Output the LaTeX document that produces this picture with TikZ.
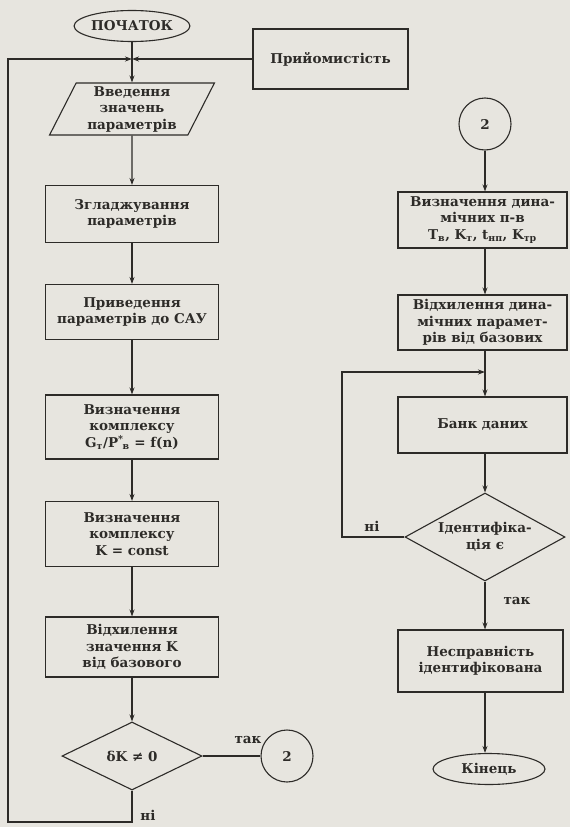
\documentclass[tikz,border=0pt]{standalone}
\usepackage{fontspec}
\setmainfont{DejaVu Serif}
\usetikzlibrary{shapes.geometric,arrows.meta}
\definecolor{paper}{RGB}{231,229,223}
\definecolor{ink}{RGB}{45,43,40}
\tikzset{
  base/.style={draw=ink,line width=1.1pt,text=ink,font=\bfseries\fontsize{13.5}{16.5}\selectfont,align=center,inner sep=1pt},
  box/.style={base,rectangle,minimum width=#1},
  oval/.style={base,ellipse,minimum width=112pt,minimum height=31pt,inner sep=0pt},
  para/.style={base,trapezium,trapezium left angle=65,trapezium right angle=115,trapezium stretches=true,minimum width=165pt,minimum height=52pt,inner sep=0pt},
  dec/.style={base,diamond,aspect=2},
  conn/.style={base,circle,minimum size=52pt},
  lbl/.style={text=ink,font=\bfseries\fontsize{13.5}{16.5}\selectfont},
  line/.style={draw=ink,line width=1.1pt},
  arr/.style={line,-{Stealth[length=7pt,width=5pt]}}
}
\begin{document}
\begin{tikzpicture}[x=1pt,y=-1pt]
\fill[paper] (0,0) rectangle (570,827);
\useasboundingbox (0,0) rectangle (570,827);
% left column
\node[oval] (start) at (132,26) {ПОЧАТОК};
\coordinate (j1) at (132,59);
\node[para] (input) at (132,109) {Введення\\значень\\параметрів};
\node[box=173pt,minimum height=57pt] (smooth) at (132,214) {Згладжування\\параметрів};
\node[box=173pt,minimum height=55pt] (sau) at (132,312) {Приведення\\параметрів до САУ};
\node[box=173pt,minimum height=64pt] (cg) at (132,427) {Визначення\\комплексу\\G\textsubscript{т}/P\textsuperscript{*}\kern-1pt\textsubscript{в} = f(n)};
\node[box=173pt,minimum height=65pt] (ck) at (132,534) {Визначення\\комплексу\\K = const};
\node[box=173pt,minimum height=60pt] (devk) at (132,647) {Відхилення\\значення K\\від базового};
\node[dec,minimum width=140pt,minimum height=68pt] (d1) at (132,756) {δK ≠ 0};
\node[conn] (c2a) at (287,756) {2};
\node[lbl] (yes1) at (248,740) {так};
\node[lbl] (no1) at (148,815) {ні};
\coordinate (b1) at (132,822);
\coordinate (b2) at (8,822);
\coordinate (b3) at (8,59);
% top middle
\node[box=155pt,minimum height=60pt] (acc) at (330.5,59) {Прийомистість};
% right column
\node[conn] (c2b) at (485,124) {2};
\node[box=169pt,minimum height=56pt] (dyn) at (482.5,220) {Визначення дина-\\мічних п-в\\T\textsubscript{в}, K\textsubscript{т}, t\textsubscript{нп}, K\textsubscript{тр}};
\node[box=169pt,minimum height=55pt] (devd) at (482.5,322.5) {Відхилення дина-\\мічних парамет-\\рів від базових};
\coordinate (j2) at (485,372);
\node[box=169pt,minimum height=56pt] (bank) at (482.5,425) {Банк даних};
\node[dec,minimum width=160pt,minimum height=88pt,inner sep=0pt] (d2) at (485,537) {Ідентифіка-\\ція є};
\node[lbl] (no2) at (372,526) {ні};
\coordinate (l1) at (342,537);
\coordinate (l2) at (342,372);
\node[lbl] (yes2) at (517,601) {так};
\node[box=165pt,minimum height=62pt] (fault) at (480.5,661) {Несправність\\ідентифікована};
\node[oval] (fin) at (489,769) {Кінець};
% connectors left
\draw[line] (start) -- (j1);
\draw[arr] (acc.west) -- (j1);
\draw[arr] (j1) -- (input);
\draw[arr] (input) -- (smooth);
\draw[arr] (smooth) -- (sau);
\draw[arr] (sau) -- (cg);
\draw[arr] (cg) -- (ck);
\draw[arr] (ck) -- (devk);
\draw[arr] (devk) -- (d1);
\draw[line] (d1.east) -- (c2a);
\draw[arr] (d1.south) -- (b1) -- (b2) -- (b3) -- (j1);
% connectors right
\draw[arr] (c2b) -- (c2b |- dyn.north);
\draw[arr] (c2b |- dyn.south) -- (c2b |- devd.north);
\draw[line] (c2b |- devd.south) -- (j2);
\draw[arr] (j2) -- (j2 |- bank.north);
\draw[arr] (j2 |- bank.south) -- (d2.north);
\draw[arr] (d2.west) -- (l1) -- (l2) -- (j2);
\draw[arr] (d2.south) -- (d2.south |- fault.north);
\draw[arr] (d2.south |- fault.south) -- (d2.south |- fin.north);
\end{tikzpicture}
\end{document}
